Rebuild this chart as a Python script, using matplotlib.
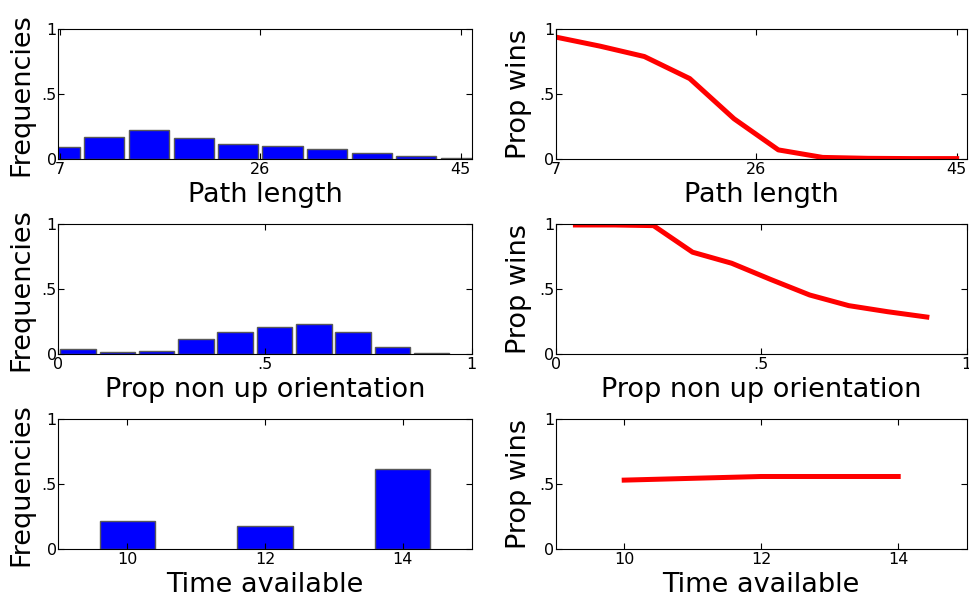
import matplotlib
matplotlib.use("Agg")
import matplotlib.pyplot as plt

# Row 1: path length
path_centers = [7.0, 11.2, 15.4, 19.7, 23.9, 28.1, 32.3, 36.6, 40.8, 45.0]
path_freq = [0.095, 0.172, 0.221, 0.162, 0.116, 0.100, 0.077, 0.046, 0.021, 0.008]
path_wins = [0.94, 0.87, 0.79, 0.62, 0.31, 0.07, 0.012, 0.005, 0.003, 0.003]
path_ticks = [7, 26, 45]

# Row 2: proportion non-up orientation
orient_centers = [0.048, 0.143, 0.238, 0.333, 0.428, 0.523, 0.618, 0.713, 0.808, 0.903]
orient_freq = [0.036, 0.018, 0.026, 0.113, 0.172, 0.206, 0.231, 0.167, 0.054, 0.008]
orient_wins = [0.995, 0.995, 0.99, 0.785, 0.70, 0.575, 0.455, 0.373, 0.326, 0.285]
orient_ticks = [0, 0.5, 1]
orient_ticklabels = ["0", ".5", "1"]

# Row 3: time available
time_vals = [10, 12, 14]
time_freq = [0.218, 0.177, 0.615]
time_wins = [0.531, 0.559, 0.559]

y_ticks = [0, 0.5, 1]
y_ticklabels = ["0", ".5", "1"]

fig = plt.figure(figsize=(9.7, 5.99), dpi=100)

left_x, left_w = 0.0601, 0.4262
right_x, right_w = 0.5729, 0.4237
rows_bottom = [0.7346, 0.409, 0.0835]
row_h = 0.2165


def style(ax, ylabel, xlabel):
    ax.set_ylim(0, 1)
    ax.set_yticks(y_ticks)
    ax.set_yticklabels(y_ticklabels)
    ax.tick_params(direction="in", top=True, right=True, length=4,
                   labelsize=11.5)
    ax.tick_params(axis="x", pad=2)
    ax.tick_params(axis="y", pad=1)
    ax.set_ylabel(ylabel, fontsize=19.5, labelpad=5)
    ax.set_xlabel(xlabel, fontsize=19.5, labelpad=4)


bar_kw = dict(color="#0000ff", edgecolor="0.35", linewidth=1)
line_kw = dict(color="#ff0000", linewidth=3.6)

# row 1
ax = fig.add_axes([left_x, rows_bottom[0], left_w, row_h])
ax.bar(path_centers, path_freq, width=3.8, **bar_kw)
ax.set_xlim(6.84, 46.04)
ax.set_xticks(path_ticks)
style(ax, "Frequencies", "Path length")

ax = fig.add_axes([right_x, rows_bottom[0], right_w, row_h])
ax.plot(path_centers, path_wins, **line_kw)
ax.set_xlim(7.0, 45.95)
ax.set_xticks(path_ticks)
style(ax, "Prop wins", "Path length")

# row 2
ax = fig.add_axes([left_x, rows_bottom[1], left_w, row_h])
ax.bar(orient_centers, orient_freq, width=0.086, **bar_kw)
ax.set_xlim(0, 1)
ax.set_xticks(orient_ticks)
ax.set_xticklabels(orient_ticklabels)
style(ax, "Frequencies", "Prop non up orientation")

ax = fig.add_axes([right_x, rows_bottom[1], right_w, row_h])
ax.plot(orient_centers, orient_wins, **line_kw)
ax.set_xlim(0, 1)
ax.set_xticks(orient_ticks)
ax.set_xticklabels(orient_ticklabels)
style(ax, "Prop wins", "Prop non up orientation")

# row 3
ax = fig.add_axes([left_x, rows_bottom[2], left_w, row_h])
ax.bar(time_vals, time_freq, width=0.8, **bar_kw)
ax.set_xlim(9, 15)
ax.set_xticks(time_vals)
style(ax, "Frequencies", "Time available")

ax = fig.add_axes([right_x, rows_bottom[2], right_w, row_h])
ax.plot(time_vals, time_wins, **line_kw)
ax.set_xlim(9, 15)
ax.set_xticks(time_vals)
style(ax, "Prop wins", "Time available")

fig.savefig("out.png", dpi=100)
